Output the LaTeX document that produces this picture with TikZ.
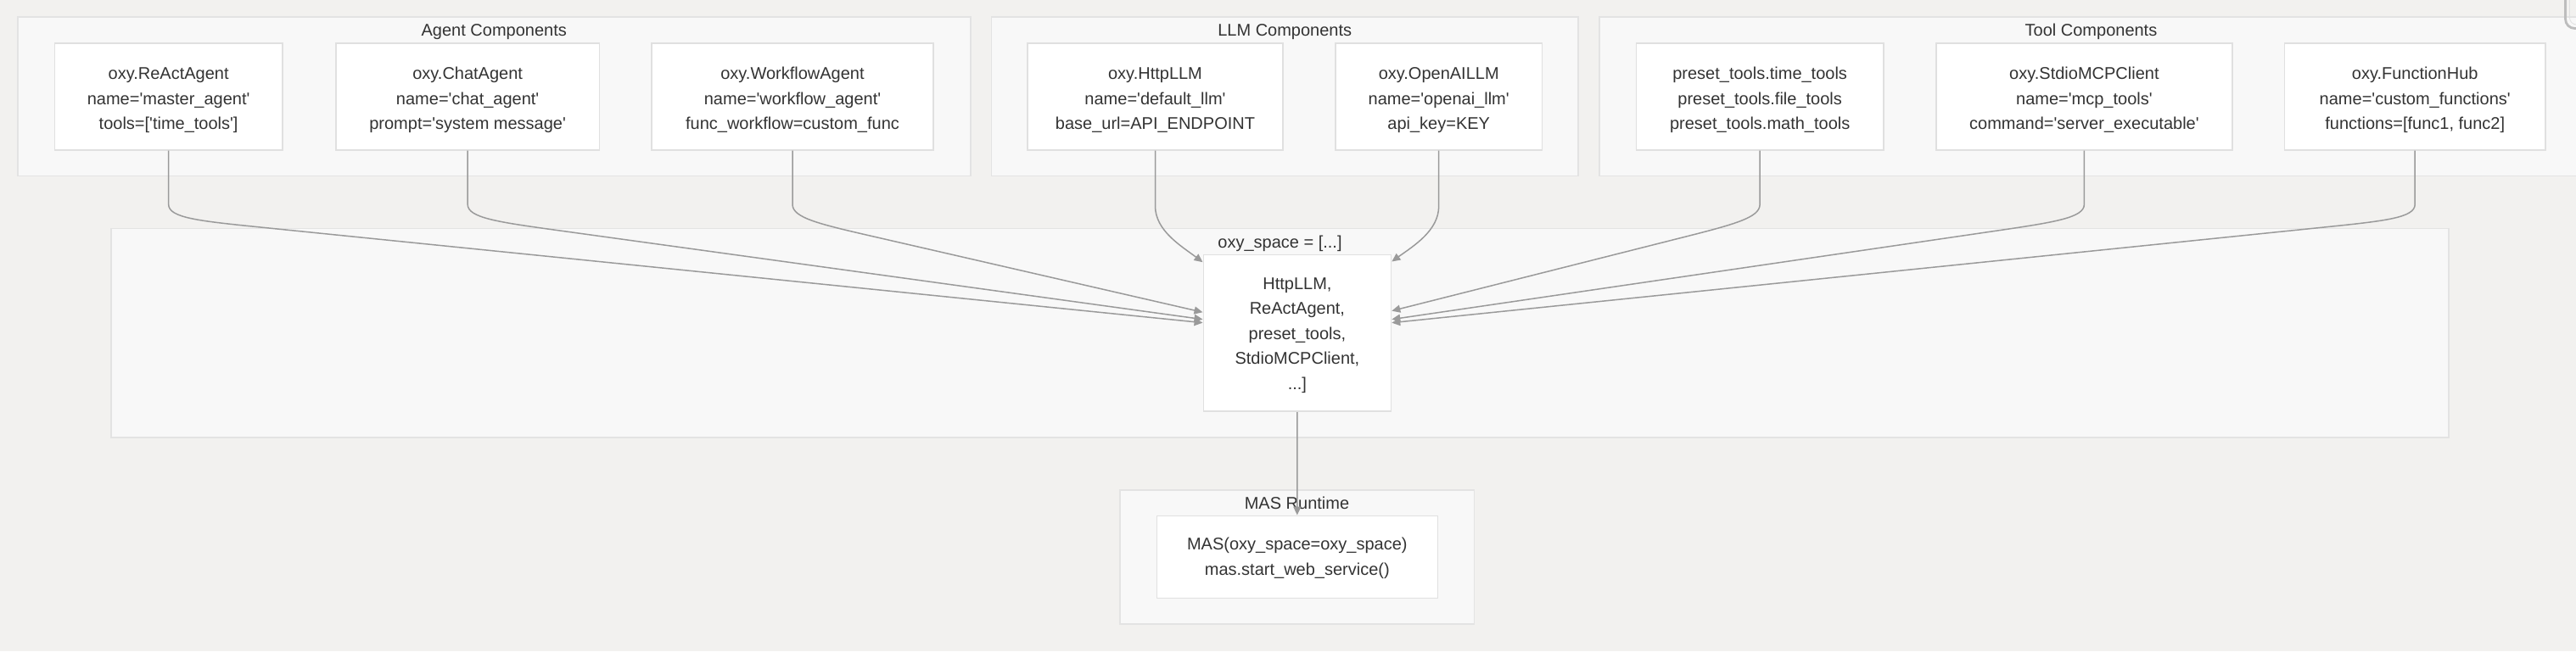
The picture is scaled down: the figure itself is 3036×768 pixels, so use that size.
\documentclass[tikz,border=0pt]{standalone}
\usepackage{fontspec}
\newfontfamily\lsans{Liberation Sans}
\usetikzlibrary{arrows.meta,calc}
\definecolor{bgc}{HTML}{F2F1EF}
\definecolor{clfill}{HTML}{F8F8F8}
\definecolor{clline}{HTML}{E3E3E3}
\definecolor{ndline}{HTML}{E0E0E0}
\definecolor{edgec}{HTML}{9A9A9A}
\definecolor{txt}{HTML}{333333}
\definecolor{decol}{HTML}{BDBDBD}
\newcommand{\flA}{\rule{0pt}{11.6pt}}
\newcommand{\flB}{\rule{0pt}{9.7pt}}
\newcommand{\flC}{\rule{0pt}{8.9pt}}
\begin{document}
\begin{tikzpicture}[x=0.5pt,y=-0.5pt,
  cluster/.style={draw=clline, fill=clfill, line width=0.8pt, inner sep=0pt, rectangle},
  box/.style={draw=ndline, fill=white, line width=0.8pt, inner sep=0pt, align=center,
    text=txt, font=\lsans\fontsize{10pt}{14.75pt}\selectfont},
  topbox/.style={box, minimum height=63pt},
  ctitle/.style={text=txt, font=\lsans\fontsize{10pt}{12pt}\selectfont, inner sep=0pt, anchor=base},
  edge/.style={draw=edgec, line width=0.75pt, -{Triangle[length=5pt,width=4.5pt]}},
]
\fill[bgc] (0,0) rectangle (3036,768);
\useasboundingbox (0,0) rectangle (3036,768);
\clip (0,0) rectangle (3036,768);

% clusters
\node[cluster, minimum width=561.55pt, minimum height=93.65pt] (agentcl) at (582.25,113.65) {};
\node[cluster, minimum width=345.95pt, minimum height=93.65pt] (llmcl) at (1514.25,113.65) {};
\node[cluster, minimum width=579.5pt, minimum height=93.65pt] (toolcl) at (2464.5,113.65) {};
\node[cluster, minimum width=1377.5pt, minimum height=123.2pt] (spacecl) at (1508.5,392.5) {};
\node[cluster, minimum width=208.65pt, minimum height=79.15pt] (mascl) at (1528.65,656.85) {};

\node[ctitle] (agenttitle) at (582.25,42.7) {Agent Components};
\node[ctitle] (llmtitle) at (1514.25,42.7) {LLM Components};
\node[ctitle] (tooltitle) at (2464.5,42.7) {Tool Components};
\node[ctitle] (spacetitle) at (1508.5,292) {oxy\_space = [...]};
\node[ctitle] (mastitle) at (1528.5,600.6) {MAS Runtime};

% top boxes
\node[topbox, minimum width=134.25pt] (react) at (198.65,113.7)
  {\flA oxy.ReActAgent\\name='master\_agent'\\tools=['time\_tools']};
\node[topbox, minimum width=155.35pt] (chat) at (551.15,113.7)
  {\flA oxy.ChatAgent\\name='chat\_agent'\\prompt='system message'};
\node[topbox, minimum width=166pt] (workflow) at (934,113.7)
  {\flA oxy.WorkflowAgent\\name='workflow\_agent'\\func\_workflow=custom\_func};
\node[topbox, minimum width=150.5pt] (http) at (1361.5,113.7)
  {\flA oxy.HttpLLM\\name='default\_llm'\\base\_url=API\_ENDPOINT};
\node[topbox, minimum width=121.8pt] (openai) at (1695.7,113.7)
  {\flA oxy.OpenAILLM\\name='openai\_llm'\\api\_key=KEY};
\node[topbox, minimum width=145.65pt] (preset) at (2074.15,113.7)
  {\flA preset\_tools.time\_tools\\preset\_tools.file\_tools\\preset\_tools.math\_tools};
\node[topbox, minimum width=174.6pt] (stdio) at (2456.4,113.7)
  {\flA oxy.StdioMCPClient\\name='mcp\_tools'\\command='server\_executable'};
\node[topbox, minimum width=153.8pt] (fhub) at (2846.2,113.7)
  {\flA oxy.FunctionHub\\name='custom\_functions'\\functions=[func1, func2]};

% central and runtime boxes
\node[box, minimum width=110.6pt, minimum height=92.35pt] (central) at (1528.9,392.85)
  {\flB HttpLLM,\\ReActAgent,\\preset\_tools,\\StdioMCPClient,\\...]};
\node[box, minimum width=165.5pt, minimum height=48.5pt] (masbox) at (1528.8,656.8)
  {\flC MAS(oxy\_space=oxy\_space)\\mas.start\_web\_service()};

% arrow targets
\coordinate (tReact) at ([yshift=6.1pt]central.west);
\coordinate (tChat) at ([yshift=8.1pt]central.west);
\coordinate (tWork) at ([yshift=12.3pt]central.west);
\coordinate (tPreset) at ([yshift=13.1pt]central.east);
\coordinate (tStdio) at ([yshift=8.1pt]central.east);
\coordinate (tFhub) at ([yshift=6.1pt]central.east);
\coordinate (tHttp) at ([yshift=-4.75pt]central.north west);
\coordinate (tOpen) at ([yshift=-4.4pt]central.north east);

% bend points
\coordinate (kReact) at (198.65,257);
\coordinate (kChat) at (551.15,257);
\coordinate (kWork) at (934,257);
\coordinate (kPreset) at (2074.15,257);
\coordinate (kStdio) at (2456.4,257);
\coordinate (kFhub) at (2846.2,257);

\draw[edge] (react.south) -- (198.65,241) .. controls (kReact) and ($(kReact)!18pt!(tReact)$) .. ($(kReact)!55pt!(tReact)$) -- (tReact);
\draw[edge] (chat.south) -- (551.15,241) .. controls (kChat) and ($(kChat)!18pt!(tChat)$) .. ($(kChat)!55pt!(tChat)$) -- (tChat);
\draw[edge] (workflow.south) -- (934,241) .. controls (kWork) and ($(kWork)!16pt!(tWork)$) .. ($(kWork)!50pt!(tWork)$) -- (tWork);
\draw[edge] (preset.south) -- (2074.15,241) .. controls (kPreset) and ($(kPreset)!16pt!(tPreset)$) .. ($(kPreset)!50pt!(tPreset)$) -- (tPreset);
\draw[edge] (stdio.south) -- (2456.4,241) .. controls (kStdio) and ($(kStdio)!18pt!(tStdio)$) .. ($(kStdio)!55pt!(tStdio)$) -- (tStdio);
\draw[edge] (fhub.south) -- (2846.2,241) .. controls (kFhub) and ($(kFhub)!18pt!(tFhub)$) .. ($(kFhub)!55pt!(tFhub)$) -- (tFhub);
\draw[edge] (http.south) -- (1361.5,243) .. controls (1361.5,272) and (1392,290) .. (tHttp);
\draw[edge] (openai.south) -- (1695.7,243) .. controls (1695.7,272) and (1666,290) .. (tOpen);
\draw[edge] (central.south) -- (masbox.north);

% partial rounded frame at top right
\draw[line width=1.4pt, draw=decol, rounded corners=5.5pt] (3023.5,-10) -- (3023.5,33.5) -- (3060,33.5);
\draw[line width=0.4pt, draw=ndline, rounded corners=4pt] (3028.5,-10) -- (3028.5,29) -- (3060,29);
\end{tikzpicture}
\end{document}
